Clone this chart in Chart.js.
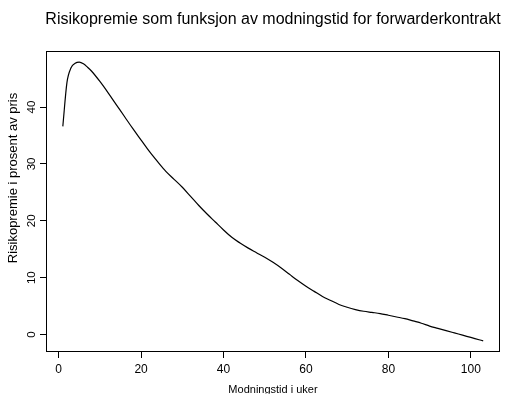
<!DOCTYPE html>
<html>
<head>
<meta charset="utf-8">
<script src="https://cdn.jsdelivr.net/npm/chart.js@4"></script>
<style>
html, body { margin: 0; padding: 0; background: #fff; }
</style>
</head>
<body>
<canvas id="risiko" width="507" height="394"></canvas>
<script>
// Modningstid (uker) og risikopremie (% av pris)
const uker = [1, 2, 3, 4, 5, 6, 7, 8, 10, 12, 14, 16, 18, 20, 22, 24, 26, 28, 30, 32, 34, 36, 38, 40,
    42, 44, 46, 48, 50, 52, 54, 56, 58, 60, 62, 64, 66, 68, 70, 72, 74, 76, 78, 80, 82, 84, 86, 88,
    90, 92, 94, 96, 98, 100, 102, 103];
const premie = [36.6, 44.3, 46.9, 47.7, 47.9, 47.6, 47.0, 46.3, 44.5, 42.5, 40.4, 38.3, 36.2, 34.2,
    32.2, 30.4, 28.7, 27.3, 25.9, 24.3, 22.7, 21.2, 19.8, 18.4, 17.1, 16.1, 15.2, 14.4, 13.6, 12.7,
    11.7, 10.6, 9.5, 8.5, 7.6, 6.7, 6.0, 5.3, 4.8, 4.4, 4.1, 3.9, 3.7, 3.4, 3.1, 2.8, 2.4, 2.0,
    1.5, 1.1, 0.7, 0.3, -0.1, -0.5, -0.9, -1.1];

// Akser
const xTicks = [0, 20, 40, 60, 80, 100];
const yTicks = [0, 10, 20, 30, 40];

// Tekster
const tittel = 'Risikopremie som funksjon av modningstid for forwarderkontrakt';
const xTittel = 'Modningstid i uker';
const yTittel = 'Risikopremie i prosent av pris';

const FONT = '"Liberation Sans", Arial, Helvetica, sans-serif';

// R-stil: 4 % luft rundt dataområdet
function rRange(vals) {
    const lo = Math.min(...vals), hi = Math.max(...vals);
    const pad = (hi - lo) * 0.04;
    return { min: lo - pad, max: hi + pad };
}
const xr = rRange(uker);
const yr = rRange(premie);

// Ramme, tittel, y-tekster (roterte som i R)
const rStil = {
    id: 'rStil',
    afterDraw(chart) {
        const { ctx, chartArea: a, scales: { y } } = chart;
        ctx.save();
        ctx.strokeStyle = '#000';
        ctx.lineWidth = 1;
        ctx.strokeRect(a.left + 0.5, a.top + 0.5, a.right - a.left - 1, a.bottom - a.top - 1);

        ctx.fillStyle = '#000';
        ctx.textAlign = 'center';
        ctx.textBaseline = 'middle';

        ctx.font = '16px ' + FONT;
        ctx.fillText(tittel, (a.left + a.right) / 2, 20);

        ctx.font = '11.5px ' + FONT;
        yTicks.forEach(v => {
            ctx.save();
            ctx.translate(32, y.getPixelForValue(v));
            ctx.rotate(-Math.PI / 2);
            ctx.fillText(String(v), 0, 0);
            ctx.restore();
        });

        ctx.font = '13px ' + FONT;
        ctx.save();
        ctx.translate(13.5, 178);
        ctx.rotate(-Math.PI / 2);
        ctx.fillText(yTittel, 0, 0);
        ctx.restore();
        ctx.restore();
    }
};

new Chart(document.getElementById('risiko'), {
    type: 'line',
    data: {
        datasets: [{
            data: uker.map((u, i) => ({ x: u, y: premie[i] })),
            borderColor: '#000',
            borderWidth: 1.2,
            pointRadius: 0,
            cubicInterpolationMode: 'monotone',
            fill: false
        }]
    },
    options: {
        responsive: false,
        animation: false,
        devicePixelRatio: 1,
        layout: { padding: { top: 51, right: 7, left: 0, bottom: 0 } },
        plugins: {
            legend: { display: false },
            tooltip: { enabled: false }
        },
        scales: {
            x: {
                type: 'linear',
                min: xr.min,
                max: xr.max,
                afterBuildTicks: s => { s.ticks = xTicks.map(v => ({ value: v })); },
                afterFit: s => { s.height = 42; },
                border: { display: false },
                grid: { drawOnChartArea: false, drawTicks: true, tickLength: 6, color: '#000', lineWidth: 1 },
                ticks: {
                    color: '#000',
                    padding: 4,
                    maxRotation: 0,
                    font: { family: FONT, size: 12 },
                    callback: v => String(v)
                },
                title: {
                    display: true,
                    text: xTittel,
                    color: '#000',
                    padding: 0,
                    font: { family: FONT, size: 11, lineHeight: 0.8 }
                }
            },
            y: {
                type: 'linear',
                min: yr.min,
                max: yr.max,
                afterBuildTicks: s => { s.ticks = yTicks.map(v => ({ value: v })); },
                afterFit: s => { s.width = 46; },
                border: { display: false },
                grid: { drawOnChartArea: false, drawTicks: true, tickLength: 6, color: '#000', lineWidth: 1 },
                ticks: { display: false }
            }
        }
    },
    plugins: [rStil]
});
</script>
</body>
</html>
